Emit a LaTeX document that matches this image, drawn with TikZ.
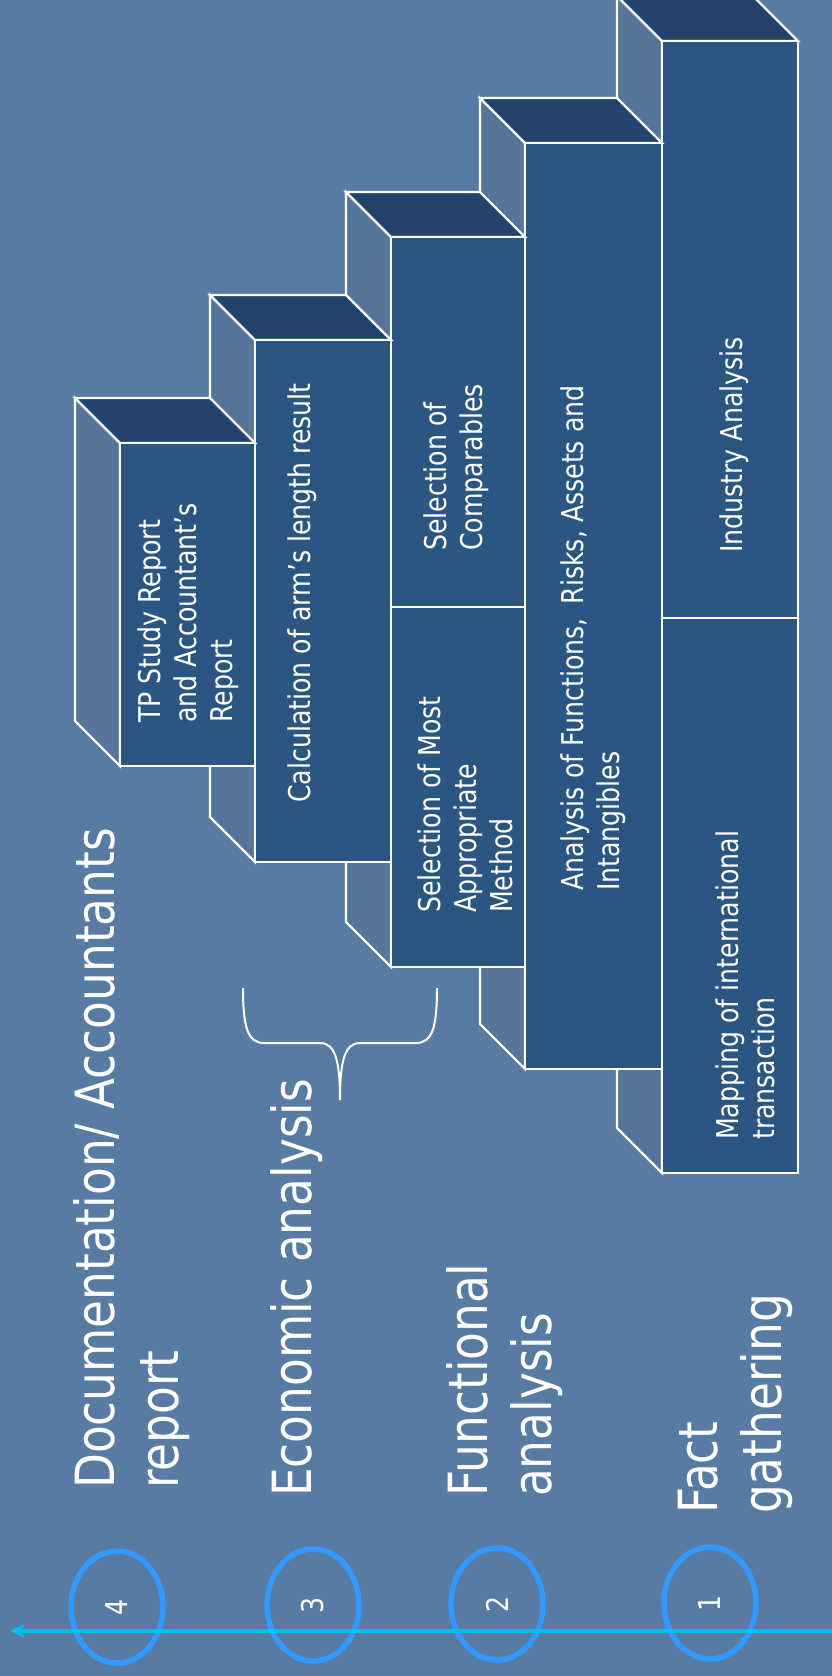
\documentclass[tikz,border=0pt]{standalone}
\usepackage{fontspec}
\setmainfont{DejaVu Sans}[FakeStretch=0.84]
\usetikzlibrary{arrows.meta,shapes.geometric}
\definecolor{bg}{RGB}{88,123,163}
\definecolor{frontc}{RGB}{44,86,130}
\definecolor{topc}{RGB}{34,67,107}
\definecolor{sidec}{RGB}{85,117,155}
\definecolor{ringc}{RGB}{51,153,255}
\definecolor{axisc}{RGB}{0,190,240}
\tikzset{
  face/.style={draw=white, line width=2.2pt, line join=miter},
  bigtext/.style={text=white, font=\fontsize{54}{64}\selectfont, rotate=90, anchor=west, align=left, inner sep=0pt},
  smalltext/.style={text=white, font=\fontsize{30}{36}\selectfont, rotate=90, anchor=west, align=left, inner sep=0pt},
  ring/.style={ellipse, draw=ringc, line width=5.5pt, rotate=90, minimum width=112pt, minimum height=92pt, inner sep=0pt, text=white, font=\fontsize{30}{36}\selectfont},
  axisline/.style={draw=axisc, line width=4pt, -{Stealth[length=15pt,width=14pt,inset=4pt]}},
  braceline/.style={draw=white, line width=2pt}
}
% #1 left, #2 right, #3 top, #4 bottom of the front face
\newcommand\drawblock[4]{%
  \path[face, fill=sidec] (#1,#3) -- (#1-45,#3-45) -- (#1-45,#4-45) -- (#1,#4) -- cycle;
  \path[face, fill=topc] (#1,#3) -- (#1-45,#3-45) -- (#2-45,#3-45) -- (#2,#3) -- cycle;
  \path[face, fill=frontc] (#1,#3) rectangle (#2,#4);
}
\begin{document}
\begin{tikzpicture}[x=1pt, y=-1pt]
\useasboundingbox (0,0) rectangle (832,1676);
\fill[bg] (0,0) rectangle (832,1676);

% blocks, back to front
\drawblock{662}{798}{41}{1173}
\draw[face] (662,618) -- (798,618);
\drawblock{525}{662}{143}{1069}
\drawblock{391}{525}{237}{967}
\draw[face] (391,607) -- (525,607);
\drawblock{255}{391}{340}{862}
\drawblock{120}{255}{443}{766}

% texts in blocks
\node[smalltext] (tp) at (188,723) {TP Study Report\\and Accountant’s\\Report};
\node[smalltext] (calc) at (302,803) {Calculation of arm’s length result};
\node[smalltext] (comp) at (456,551) {Selection of\\Comparables};
\node[smalltext] (most) at (465,913) {Selection of Most\\Appropriate\\Method};
\node[smalltext] (anal) at (593,891) {Analysis of Functions,\hspace{14pt}Risks, Assets and\\Intangibles};
\node[smalltext] (ind) at (734,553) {Industry Analysis};
\node[smalltext] (map) at (745,1140) {Mapping of international\\transaction};

% brace
\coordinate (bL) at (243,988);
\coordinate (bR) at (437,988);
\coordinate (bTip) at (340,1100);
\draw[braceline] (bL) .. controls (243,1028) and (248,1043) .. (264,1043) -- (320,1043) .. controls (335,1043) and (340,1060) .. (bTip);
\draw[braceline] (bR) .. controls (437,1028) and (432,1043) .. (416,1043) -- (360,1043) .. controls (345,1043) and (340,1060) .. (bTip);

% stage titles
\node[bigtext] (doc) at (132,1489) {Documentation/ Accountants\\report};
\node[bigtext] (eco) at (297,1497) {Economic analysis};
\node[bigtext] (fun) at (505,1497) {Functional\\analysis};
\node[bigtext] (fact) at (735,1514) {Fact\\gathering};

% numbered rings
\node[ring] (r4) at (117,1607) {4};
\node[ring] (r3) at (313,1605) {3};
\node[ring] (r2) at (497,1604) {2};
\node[ring] (r1) at (710,1603) {1};

% axis arrow
\coordinate (aStart) at (832,1631);
\coordinate (aEnd) at (10,1631);
\draw[axisline] (aStart) -- (aEnd);
\end{tikzpicture}
\end{document}
